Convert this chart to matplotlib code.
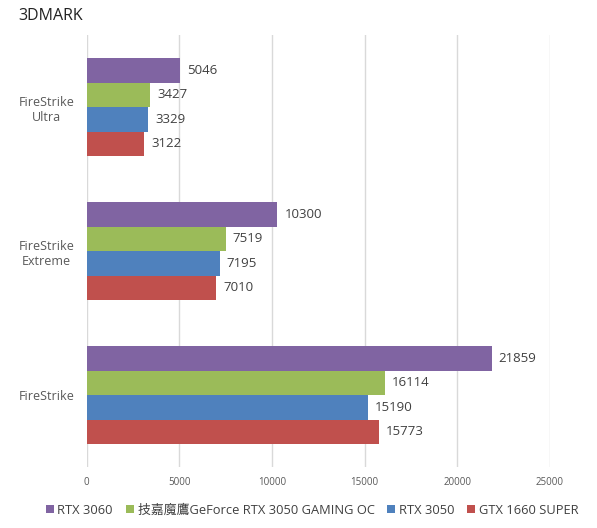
import matplotlib
matplotlib.use("Agg")
import matplotlib.pyplot as plt
import numpy as np

plt.rcParams['font.family'] = ['Open Sans', 'Noto Sans CJK TC', 'DejaVu Sans']

categories = ["FireStrike\nUltra", "FireStrike\nExtreme", "FireStrike"]
series_names = ["RTX 3060", "技嘉魔鷹GeForce RTX 3050 GAMING OC", "RTX 3050", "GTX 1660 SUPER"]
rtx3060 = [5046, 10300, 21859]
gaming_oc = [3427, 7519, 16114]
rtx3050 = [3329, 7195, 15190]
gtx1660s = [3122, 7010, 15773]
xticks = [0, 5000, 10000, 15000, 20000, 25000]

series = [rtx3060, gaming_oc, rtx3050, gtx1660s]
colors = ["#8064A2", "#9BBB59", "#4F81BD", "#C0504D"]

fig = plt.figure(figsize=(5.97, 5.28), dpi=100)
ax = fig.add_axes([0.145, 0.1155, 0.776, 0.818])

bh = 0.17
y = np.arange(len(categories))
for i, (vals, c, name) in enumerate(zip(series, colors, series_names)):
    pos = y + (i - 1.5) * bh
    bars = ax.barh(pos, vals, height=bh, color=c, label=name, zorder=3)
    for b, v in zip(bars, vals):
        ax.annotate(str(v), (v, b.get_y() + b.get_height() / 2), xytext=(5, 0),
                    textcoords="offset points", va="center", ha="left",
                    fontsize=9.5, color="#404040")

ax.set_xlim(0, 25000)
ax.set_ylim(2.5, -0.5)
ax.set_xticks(xticks)
ax.set_xticklabels([str(t) for t in xticks])
ax.set_yticks(y)
ax.set_yticklabels(categories, ha="center", fontsize=9, color="#595959")
ax.tick_params(axis="y", length=0, pad=29)
ax.tick_params(axis="x", length=0, labelsize=7, labelcolor="#595959", pad=7)
for s in ax.spines.values():
    s.set_visible(False)
ax.grid(axis="x", color="#D9D9D9", linewidth=1, zorder=0)

fig.text(0.03, 0.97, "3DMARK", fontsize=11.5, color="#222222", va="center", ha="left")

handles, labels = ax.get_legend_handles_labels()
fig.legend(handles, labels, loc="center", bbox_to_anchor=(0.523, 0.034), ncol=4,
           frameon=False, fontsize=9.3, handlelength=0.6, handleheight=0.6,
           handletextpad=0.3, columnspacing=1.0, labelcolor="#404040")

fig.savefig("out.png", dpi=100)
